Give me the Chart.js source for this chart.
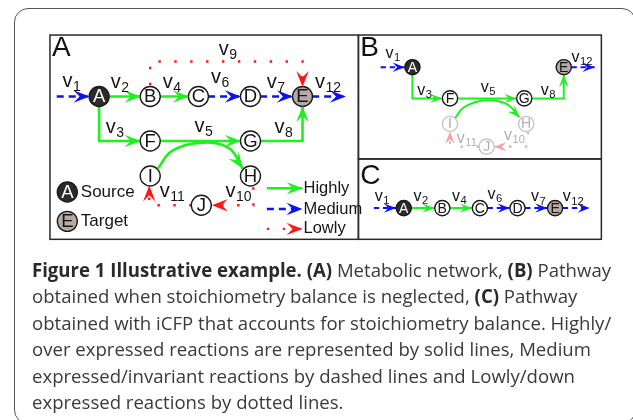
<!DOCTYPE html>
<html>
<head>
<meta charset="utf-8">
<script src="https://cdn.jsdelivr.net/npm/chart.js@4.4.0/dist/chart.umd.min.js"></script>
<style>
  html, body { margin: 0; padding: 0; background: #fff; width: 633px; height: 420px; overflow: hidden; position: relative; }
  #frame { position: absolute; left: 14px; top: 8px; width: 622px; height: 416px; border: 1.5px solid #555; border-radius: 14px; box-sizing: border-box; }
  #fig { position: absolute; left: 0; top: 0; }
  #cap { position: absolute; left: 32px; top: 257px; font-family: "Open Sans", sans-serif; font-size: 19px; line-height: 26.4px; color: #3a3a3a; white-space: nowrap; transform-origin: 0 0; }
  #cap b { font-weight: 700; color: #2a2a2a; }
</style>
</head>
<body>
<div id="frame"></div>
<canvas id="fig" width="633" height="420"></canvas>
<div id="cap">
  <div><span id="l1"><b>Figure 1 Illustrative example.</b> <b>(A)</b> Metabolic network, <b>(B)</b> Pathway</span></div>
  <div>obtained when stoichiometry balance is neglected, <b>(C)</b> Pathway</div>
  <div>obtained with iCFP that accounts for stoichiometry balance. Highly/</div>
  <div>over expressed reactions are represented by solid lines, Medium</div>
  <div>expressed/invariant reactions by dashed lines and Lowly/down</div>
  <div>expressed reactions by dotted lines.</div>
</div>
<script>
'use strict';

// ── data ──────────────────────────────────────────────────────────────────────

// panel A – metabolic network
const nodesA = [
  { id: 'A', x: 91,  y: 90,  role: 'source' },
  { id: 'B', x: 144, y: 90 },
  { id: 'C', x: 194, y: 90 },
  { id: 'D', x: 248, y: 90 },
  { id: 'E', x: 302, y: 90,  role: 'target' },
  { id: 'F', x: 144, y: 137 },
  { id: 'G', x: 248, y: 137 },
  { id: 'I', x: 144, y: 174 },
  { id: 'H', x: 248, y: 174 },
  { id: 'J', x: 197, y: 205 },
];
const edgesA = [
  { v: '1',  level: 'medium', path: [[47, 90], [81, 90]],   at: [53, 80] },
  { v: '2',  level: 'high',   path: [[101, 90], [134, 90]], at: [103, 81] },
  { v: '4',  level: 'high',   path: [[154, 90], [184, 90]], at: [157, 81] },
  { v: '6',  level: 'medium', path: [[204, 90], [238, 90]], at: [207, 76] },
  { v: '7',  level: 'medium', path: [[258, 90], [292, 90]], at: [265, 81] },
  { v: '12', level: 'medium', path: [[312, 90], [347, 90]], at: [315, 81] },
  { v: '3',  level: 'high',   path: [[91, 100], [91, 137], [134, 137]], at: [98, 129] },
  { v: '5',  level: 'high',   path: [[154, 137], [238, 137]], at: [190, 127] },
  { v: '8',  level: 'high',   path: [[258, 137], [302, 137], [302, 100]], at: [273, 129] },
  { v: '9',  level: 'low',    path: [[144, 78], [144, 53], [302, 53], [302, 80]], at: [215, 46] },
  { v: '',   level: 'high',   path: [[152, 166], [166, 148], [194, 139], [225, 144], [240, 166]], curved: true },
  { v: '10', level: 'low',    path: [[251, 186], [251, 205], [208, 205]], at: [222, 196] },
  { v: '11', level: 'low',    path: [[187, 205], [143, 205], [143, 184]], at: [154, 196] },
];
const legendNodes = [
  { id: 'A', x: 58, y: 191, role: 'source', text: 'Source' },
  { id: 'E', x: 58, y: 222, role: 'target', text: 'Target' },
];
const legendLevels = ['high', 'medium', 'low'];
const legendTexts = ['Highly', 'Medium', 'Lowly'];
const legendRows = [187, 209, 230];
const legendSpan = [265, 302];

// panel B – pathway when stoichiometry is neglected
const nodesB = [
  { id: 'A', x: 416, y: 59,  role: 'source' },
  { id: 'E', x: 573, y: 59,  role: 'target' },
  { id: 'F', x: 455, y: 92 },
  { id: 'G', x: 532, y: 92 },
  { id: 'I', x: 455, y: 119, faded: true },
  { id: 'H', x: 534, y: 119, faded: true },
  { id: 'J', x: 493, y: 143, faded: true },
];
const edgesB = [
  { v: '1',  level: 'medium', path: [[383, 59], [408, 59]], at: [388, 49] },
  { v: '12', level: 'medium', path: [[581, 59], [605, 59]], at: [581, 53] },
  { v: '3',  level: 'high',   path: [[416, 67], [416, 92], [447, 92]], at: [421, 88] },
  { v: '5',  level: 'high',   path: [[463, 92], [524, 92]], at: [487, 85] },
  { v: '8',  level: 'high',   path: [[540, 92], [573, 92], [573, 67]], at: [549, 88] },
  { v: '',   level: 'high',   path: [[460, 113], [470, 101], [492, 94], [514, 98], [527, 112]], curved: true },
  { v: '10', level: 'low', faded: true, path: [[536, 127], [536, 143], [501, 143]], at: [511, 136] },
  { v: '11', level: 'low', faded: true, path: [[485, 143], [455, 143], [455, 127]], at: [462, 139] },
];

// panel C – pathway obtained with iCFP
const nodesC = [
  { id: 'A', x: 407, y: 208, role: 'source' },
  { id: 'B', x: 447, y: 208 },
  { id: 'C', x: 486, y: 208 },
  { id: 'D', x: 525, y: 208 },
  { id: 'E', x: 564, y: 208, role: 'target' },
];
const edgesC = [
  { v: '1',  level: 'medium', path: [[376, 208], [399, 208]], at: [377, 200] },
  { v: '2',  level: 'high',   path: [[415, 208], [439, 208]], at: [417, 200] },
  { v: '4',  level: 'high',   path: [[455, 208], [478, 208]], at: [457, 200] },
  { v: '6',  level: 'medium', path: [[494, 208], [517, 208]], at: [494, 198] },
  { v: '7',  level: 'medium', path: [[533, 208], [556, 208]], at: [539, 201] },
  { v: '12', level: 'medium', path: [[572, 208], [600, 208]], at: [572, 201] },
];

const panelNames = ['A', 'B', 'C'];
const panelBoxes = [[40, 25, 360, 241], [360, 25, 612, 156], [360, 156, 612, 241]];
const panelLetterAt = [[42, 47], [362, 47], [362, 182]];

// ── styles ────────────────────────────────────────────────────────────────────

const COLORS = { high: '#1ff01f', medium: '#0c12f2', low: '#ff1616' };
const FADED = { low: '#f6a2a2', node: '#c6c6c6', text: '#b0b0b0' };
const FONT = '"Liberation Sans", Arial, sans-serif';
const SMALL = 0.76;      // panels B and C are drawn smaller
const SMALL_TEXT = 0.8;

function lineStyle(level, s) {
  if (level === 'high') return { w: 2.6 * s, dash: [] };
  if (level === 'medium') return { w: 2.6 * s, dash: [7 * s, 5 * s] };
  return { w: 2.4 * Math.max(s, 0.85), dash: [2.4, 13.5] };
}

function nodeFill(n) {
  if (n.role === 'source') return '#2b2b2b';
  if (n.role === 'target') return '#b7a9a6';
  return '#ffffff';
}

// ── datasets ──────────────────────────────────────────────────────────────────

const datasets = [];

function addEdges(edges, s, ts) {
  edges.forEach(e => {
    const st = lineStyle(e.level, s);
    const color = e.faded ? FADED.low : COLORS[e.level];
    datasets.push({
      data: e.path.map(([x, y]) => ({ x, y })),
      showLine: true,
      pointRadius: 0,
      pointHoverRadius: 0,
      borderColor: color,
      borderWidth: st.w,
      borderDash: st.dash,
      borderJoinStyle: 'miter',
      tension: e.curved ? 0.4 : 0,
      order: 2,
      arrow: { len: 16 * s, half: 6.2 * s, color },
      vlabel: e.v ? { v: e.v, at: e.at, s: ts, faded: e.faded } : null,
    });
  });
}

function addNodes(nodes, s) {
  datasets.push({
    data: nodes.map(n => ({ x: n.x, y: n.y })),
    pointRadius: 10 * s,
    pointHoverRadius: 10 * s,
    pointBackgroundColor: nodes.map(nodeFill),
    pointBorderColor: nodes.map(n => n.faded ? FADED.node : '#1a1a1a'),
    pointBorderWidth: 1.4,
    order: 0,
    nodeInfo: { nodes, s },
  });
}

addEdges(edgesA, 1, 1);
addEdges(edgesB, SMALL, SMALL_TEXT);
addEdges(edgesC, SMALL, SMALL_TEXT);
legendLevels.forEach((lv, i) => {
  addEdges([{ v: '', level: lv, path: [[legendSpan[0], legendRows[i]], [legendSpan[1], legendRows[i]]] }], 1, 1);
});
addNodes(nodesA, 1);
addNodes(legendNodes, 1);
addNodes(nodesB, SMALL);
addNodes(nodesC, SMALL);

// ── drawing helpers ───────────────────────────────────────────────────────────

function dart(ctx, tx, ty, dx, dy, len, half, color) {
  const n = Math.hypot(dx, dy) || 1;
  const ux = dx / n, uy = dy / n;
  const bx = tx - ux * len, by = ty - uy * len;
  ctx.save();
  ctx.fillStyle = color;
  ctx.beginPath();
  ctx.moveTo(tx, ty);
  ctx.lineTo(bx - uy * half, by + ux * half);
  ctx.lineTo(tx - ux * len * 0.62, ty - uy * len * 0.62);
  ctx.lineTo(bx + uy * half, by - ux * half);
  ctx.closePath();
  ctx.fill();
  ctx.restore();
}

function drawV(ctx, x, y, sub, s, color) {
  ctx.fillStyle = color;
  ctx.textAlign = 'left';
  ctx.textBaseline = 'alphabetic';
  ctx.font = `${20 * s}px ${FONT}`;
  ctx.fillText('v', x, y);
  const w = ctx.measureText('v').width;
  ctx.font = `${14 * s}px ${FONT}`;
  ctx.fillText(sub, x + w + 0.5, y + 4 * s);
}

const figurePlugin = {
  id: 'figure',
  beforeDatasetsDraw(chart) {
    const { ctx, scales: { x, y } } = chart;
    ctx.save();
    ctx.strokeStyle = '#2a2a2a';
    ctx.lineWidth = 1.5;
    panelBoxes.forEach(b => {
      const x0 = x.getPixelForValue(b[0]), y0 = y.getPixelForValue(b[1]);
      const x1 = x.getPixelForValue(b[2]), y1 = y.getPixelForValue(b[3]);
      ctx.strokeRect(x0, y0, x1 - x0, y1 - y0);
    });
    ctx.fillStyle = '#111';
    ctx.font = `28px ${FONT}`;
    ctx.textBaseline = 'alphabetic';
    panelNames.forEach((p, i) => {
      ctx.fillText(p, x.getPixelForValue(panelLetterAt[i][0]), y.getPixelForValue(panelLetterAt[i][1]));
    });
    ctx.restore();
  },
  afterDatasetsDraw(chart) {
    const { ctx, scales: { x, y } } = chart;
    ctx.save();
    chart.data.datasets.forEach((ds, i) => {
      const pts = chart.getDatasetMeta(i).data;
      if (ds.arrow) {
        const tip = pts[pts.length - 1], prev = pts[pts.length - 2];
        dart(ctx, tip.x, tip.y, tip.x - prev.x, tip.y - prev.y, ds.arrow.len, ds.arrow.half, ds.arrow.color);
      }
      if (ds.vlabel) {
        const l = ds.vlabel;
        drawV(ctx, x.getPixelForValue(l.at[0]), y.getPixelForValue(l.at[1]), l.v, l.s, l.faded ? FADED.text : '#151515');
      }
      if (ds.nodeInfo) {
        const { nodes, s } = ds.nodeInfo;
        ctx.font = `${18.5 * s}px ${FONT}`;
        ctx.textAlign = 'center';
        ctx.textBaseline = 'middle';
        nodes.forEach((n, k) => {
          ctx.fillStyle = n.role === 'source' ? '#ffffff' : (n.faded ? FADED.text : '#151515');
          ctx.fillText(n.id, pts[k].x, pts[k].y + 0.8 * s);
        });
      }
    });
    // legend texts
    ctx.fillStyle = '#151515';
    ctx.textAlign = 'left';
    ctx.textBaseline = 'middle';
    ctx.font = `17px ${FONT}`;
    legendNodes.forEach(n => {
      ctx.fillText(n.text, x.getPixelForValue(n.x + 14), y.getPixelForValue(n.y));
    });
    ctx.font = `16.5px ${FONT}`;
    legendTexts.forEach((t, i) => {
      ctx.fillText(t, x.getPixelForValue(legendSpan[1] + 1), y.getPixelForValue(legendRows[i]));
    });
    ctx.restore();
  },
};

new Chart(document.getElementById('fig'), {
  type: 'scatter',
  data: { datasets },
  options: {
    responsive: false,
    animation: false,
    events: [],
    layout: { padding: 0 },
    plugins: { legend: { display: false }, tooltip: { enabled: false } },
    scales: {
      x: { type: 'linear', min: 0, max: 633, display: false },
      y: { type: 'linear', min: 0, max: 420, reverse: true, display: false },
    },
  },
  plugins: [figurePlugin],
});

// caption: fit the first line to the reference width
const cap = document.getElementById('cap');
const firstW = document.getElementById('l1').getBoundingClientRect().width;
if (firstW > 0) cap.style.transform = `scaleX(${(579 / firstW).toFixed(4)})`;
</script>
</body>
</html>
